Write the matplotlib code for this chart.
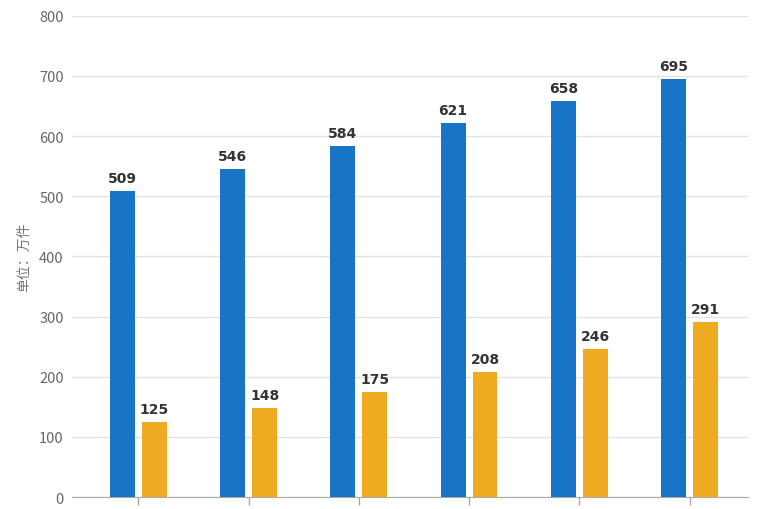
import matplotlib
matplotlib.use("Agg")
import matplotlib.pyplot as plt
import numpy as np

plt.rcParams['font.family'] = ['Noto Sans CJK SC', 'DejaVu Sans']

categories = ["", "", "", "", "", ""]
series_a = [509, 546, 584, 621, 658, 695]
series_b = [125, 148, 175, 208, 246, 291]
y_ticks = [0, 100, 200, 300, 400, 500, 600, 700, 800]
y_label = "单位：万件"

fig = plt.figure(figsize=(7.68, 5.10), dpi=100)
ax = fig.add_axes([0.094, 0.0235, 0.880, 0.9435])

x = np.arange(len(series_a))
w = 0.225
off = 0.145
ca = "#1a74c6"
cb = "#eeab22"
ax.bar(x - off, series_a, w, color=ca, zorder=3)
ax.bar(x + off, series_b, w, color=cb, zorder=3)

for xi, v in zip(x, series_a):
    ax.text(xi - off, v + 10, str(v), ha="center", va="bottom", fontsize=10,
            fontweight="bold", color="#333333", family="DejaVu Sans")
for xi, v in zip(x, series_b):
    ax.text(xi + off, v + 10, str(v), ha="center", va="bottom", fontsize=10,
            fontweight="bold", color="#333333", family="DejaVu Sans")

ax.set_ylim(0, 800)
ax.set_xlim(-0.6, 5.53)
ax.set_yticks(y_ticks)
ax.set_yticklabels([str(t) for t in y_ticks], fontsize=10.5, color="#666666")
ax.set_xticks(x)
ax.set_xticklabels(categories)
ax.tick_params(axis="y", length=0, pad=6)
ax.tick_params(axis="x", length=6, color="#aaaaaa", width=1)
ax.grid(axis="y", color="#e3e3e3", linewidth=1, zorder=0)
for s in ["top", "right", "left"]:
    ax.spines[s].set_visible(False)
ax.spines["bottom"].set_color("#aaaaaa")
ax.set_ylabel(y_label, fontsize=10, color="#777777", labelpad=6)

fig.savefig("out.png", dpi=100)
